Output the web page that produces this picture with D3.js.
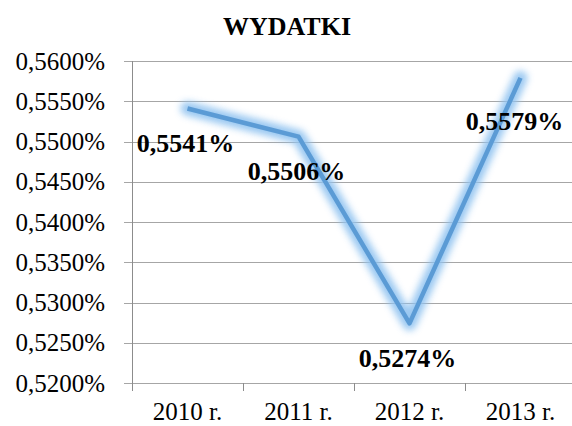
<!DOCTYPE html>
<html>
<head>
<meta charset="utf-8">
<title>WYDATKI</title>
<script src="https://d3js.org/d3.v7.min.js"></script>
<style>
  body { margin: 0; background: #fff; }
  text { font-family: "Liberation Serif", "Times New Roman", Times, serif; fill: #000; }
</style>
</head>
<body>
<svg id="chart" width="572" height="426"></svg>
<script>
// data
var years = ["2010 r.", "2011 r.", "2012 r.", "2013 r."];
var values = [0.5541, 0.5506, 0.5274, 0.5579];
var yTicks = [0.520, 0.525, 0.530, 0.535, 0.540, 0.545, 0.550, 0.555, 0.560];
var title = "WYDATKI";

var svg = d3.select("#chart");
var plotL = 132, plotR = 576, plotT = 61, plotB = 383;

var x = d3.scaleBand().domain(years).range([plotL, plotR]);
var y = d3.scaleLinear().domain([0.52, 0.56]).range([plotB, plotT]);

var fmt = function(v) { return v.toFixed(4).replace(".", ",") + "%"; };

// glow filter
var defs = svg.append("defs");
var f = defs.append("filter").attr("id", "glow")
  .attr("x", "-20%").attr("y", "-20%").attr("width", "140%").attr("height", "140%");
f.append("feGaussianBlur").attr("stdDeviation", 3.5);

// gridlines
svg.append("g").selectAll("line").data(yTicks).enter().append("line")
  .attr("x1", plotL - 8).attr("x2", plotR)
  .attr("y1", function(d) { return Math.round(y(d)) + 0.5; })
  .attr("y2", function(d) { return Math.round(y(d)) + 0.5; })
  .attr("stroke", "#a6a6a6").attr("stroke-width", 1);

// y labels
var yAxis = d3.axisLeft(y).tickValues(yTicks).tickSize(0).tickPadding(0).tickFormat(fmt);
var gy = svg.append("g").attr("transform", "translate(105,0)").call(yAxis);
gy.select(".domain").remove();
gy.selectAll("text").style("font-size", "25px")
  .style("font-family", "'Liberation Serif', 'Times New Roman', serif").attr("fill", "#000");

// axis lines
svg.append("line").attr("x1", plotL + 0.5).attr("x2", plotL + 0.5)
  .attr("y1", plotT).attr("y2", plotB + 8).attr("stroke", "#8c8c8c");
svg.append("g").selectAll("line").data(years).enter().append("line")
  .attr("x1", function(d, i) { return Math.round(plotL + x.step() * (i + 1)) + 0.5; })
  .attr("x2", function(d, i) { return Math.round(plotL + x.step() * (i + 1)) + 0.5; })
  .attr("y1", plotB).attr("y2", plotB + 8).attr("stroke", "#8c8c8c");

// x labels
var xAxis = d3.axisBottom(x).tickSize(0).tickPadding(0);
var gx = svg.append("g").attr("transform", "translate(0,402)").call(xAxis);
gx.select(".domain").remove();
gx.selectAll("text").style("font-size", "25px")
  .style("font-family", "'Liberation Serif', 'Times New Roman', serif").attr("fill", "#000");

// line
var line = d3.line()
  .x(function(d, i) { return x(years[i]) + x.bandwidth() / 2; })
  .y(function(d) { return y(d); });

svg.append("path").datum(values)
  .attr("d", line).attr("fill", "none")
  .attr("stroke", "#8fc2f0").attr("stroke-width", 14)
  .attr("stroke-linejoin", "round").attr("stroke-linecap", "round")
  .attr("opacity", 0.9).attr("filter", "url(#glow)");
svg.append("path").datum(values)
  .attr("d", line).attr("fill", "none")
  .attr("stroke", "#5b9bd5").attr("stroke-width", 4.5)
  .attr("stroke-linejoin", "round");

// data labels
var labelDy = [35, 35, 35, 44];
var labelDx = [-2, -2, -2, -6];
svg.append("g").selectAll("text").data(values).enter().append("text")
  .attr("x", function(d, i) { return x(years[i]) + x.bandwidth() / 2 + labelDx[i]; })
  .attr("y", function(d, i) { return y(d) + labelDy[i]; })
  .attr("text-anchor", "middle").attr("dominant-baseline", "central")
  .style("font-size", "26px").style("font-weight", "bold")
  .text(fmt);

// title
svg.append("text").attr("x", 287).attr("y", 35)
  .attr("text-anchor", "middle")
  .style("font-size", "26px").style("font-weight", "bold")
  .text(title);
</script>
</body>
</html>
